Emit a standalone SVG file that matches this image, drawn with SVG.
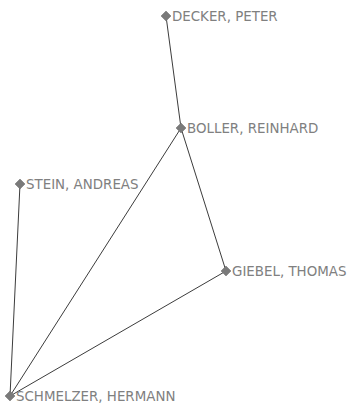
<svg xmlns="http://www.w3.org/2000/svg" width="348" height="406" viewBox="0 0 348 406">
<defs>
<style>
.e{stroke:#3c3c3c;stroke-width:1;fill:none}
.d{fill:#7a7a7a;stroke:#6a6a6a;stroke-width:0.5}
.t{font-family:"DejaVu Sans","Liberation Sans",sans-serif;font-size:13.4px;fill:#808080}
</style>
<path id="dm" class="d" d="M0,-5 L5,0 L0,5 L-5,0 Z"/>
</defs>
<rect width="348" height="406" fill="#ffffff"/>
<g id="edges">
<line class="e" x1="166" y1="16" x2="181" y2="128"/>
<line class="e" x1="181" y1="128" x2="226" y2="271"/>
<line class="e" x1="181" y1="128" x2="10" y2="396"/>
<line class="e" x1="226" y1="271" x2="10" y2="396"/>
<line class="e" x1="20" y1="184" x2="10" y2="396"/>
</g>
<g id="decker"><use href="#dm" x="166" y="16"/><text class="t" x="172" y="21">DECKER, PETER</text></g>
<g id="boller"><use href="#dm" x="181" y="128"/><text class="t" x="187" y="133">BOLLER, REINHARD</text></g>
<g id="stein"><use href="#dm" x="20" y="184"/><text class="t" x="26" y="189">STEIN, ANDREAS</text></g>
<g id="giebel"><use href="#dm" x="226" y="271"/><text class="t" x="232" y="276">GIEBEL, THOMAS</text></g>
<g id="schmelzer"><use href="#dm" x="10" y="396"/><text class="t" x="16" y="401">SCHMELZER, HERMANN</text></g>
</svg>
